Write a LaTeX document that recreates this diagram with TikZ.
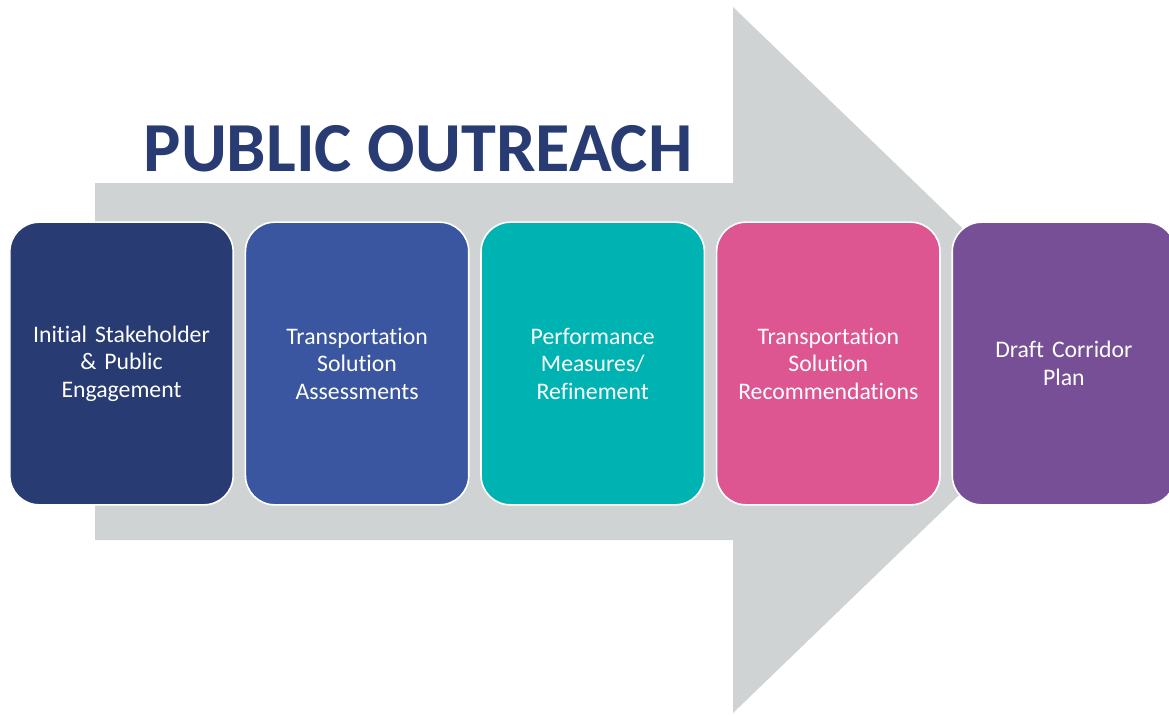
\documentclass[tikz,border=0pt]{standalone}
\usepackage{fontspec}
\setmainfont{Carlito}[Ligatures=NoCommon]
\usetikzlibrary{positioning}
\definecolor{navy}{RGB}{40,59,114}
\definecolor{royal}{RGB}{58,86,160}
\definecolor{teal}{RGB}{0,179,179}
\definecolor{pink}{RGB}{221,85,145}
\definecolor{plum}{RGB}{119,79,150}
\definecolor{shaft}{RGB}{208,211,212}
\begin{document}
\begin{tikzpicture}[x=0.75pt,y=-0.75pt]
			\tikzstyle{stage}=[draw=white,line width=1.2pt,rounded corners=22pt,minimum width=167.5pt,minimum height=212pt,inner sep=2pt,text width=160pt,align=center,text=white,font=\fontsize{17.8}{20.6}\selectfont]
			\useasboundingbox (0,0) rectangle (1169,715);
			\fill[shaft] (95,183) -- (733,183) -- (733,7) -- (1099,360) -- (733,713) -- (733,540) -- (95,540) -- cycle;
			\node[text=navy,font=\fontsize{52.7}{54}\selectfont\bfseries] (title) at (418,149){PUBLIC OUTREACH};
			\node[stage,fill=navy] (s1) at (121.5,363.5){Initial Stakeholder\\\& Public\\Engagement};
			\node[stage,fill=royal,right=8pt of s1] (s2){Transportation\\Solution\\Assessments};
			\node[stage,fill=teal,right=8pt of s2] (s3){Performance\\Measures/\\Refinement};
			\node[stage,fill=pink,right=8pt of s3] (s4){Transportation\\Solution\\Recommendations};
			\node[stage,fill=plum,right=8pt of s4] (s5){Draft Corridor\\Plan};
		\end{tikzpicture}
\end{document}
